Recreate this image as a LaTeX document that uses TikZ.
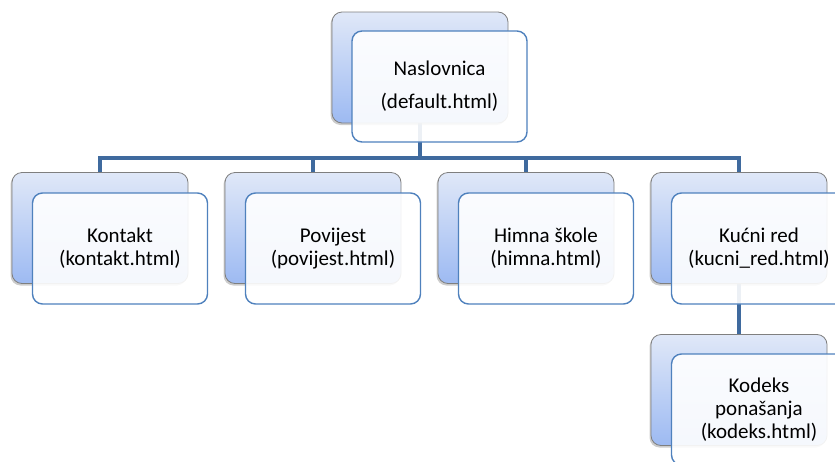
\documentclass[tikz,border=0pt]{standalone}
\usepackage{fontspec}
\setmainfont{Carlito}
\usetikzlibrary{shadows}
\definecolor{backtop}{HTML}{E0E8F8}
\definecolor{backbot}{HTML}{9DBAF2}
\definecolor{backedge}{HTML}{7F7F7F}
\definecolor{frontedge}{HTML}{4F81BD}
\definecolor{conn}{HTML}{3F6A9E}
\tikzset{
  backbox/.style={draw=backedge, line width=0.8pt, rounded corners=10pt,
    top color=backtop, bottom color=backbot, minimum width=176pt, minimum height=111pt,
    drop shadow={shadow xshift=-1.5pt, shadow yshift=-2pt, opacity=0.4}},
  frontbox/.style={draw=frontedge, line width=1.4pt, rounded corners=10pt,
    fill=white, fill opacity=0.9, text opacity=1, minimum width=175pt, minimum height=111pt,
    align=center, font=\fontsize{21}{23}\selectfont},
  connline/.style={draw=conn, line width=4pt}
}
\begin{document}
\begin{tikzpicture}[x=1pt,y=-1pt]
\useasboundingbox (0,0) rectangle (835,461);
\clip (0,0) rectangle (835,461);
% connectors
\coordinate (bus) at (420,158);
\coordinate (nasS) at (420,123);
\coordinate (konN) at (100,173);
\coordinate (povN) at (313,173);
\coordinate (himN) at (526,173);
\coordinate (kucN) at (739,173);
\coordinate (kucS) at (739,283);
\coordinate (kodN) at (739,335);
\draw[connline] (nasS) -- (bus);
\draw[connline] (bus) -| (konN);
\draw[connline] (bus) -| (povN);
\draw[connline] (bus) -| (himN);
\draw[connline] (bus) -| (kucN);
\draw[connline] (kucS) -- (kodN);
% back boxes
\node[backbox] (nasB) at (420,67.5) {};
\node[backbox] (konB) at (100,228) {};
\node[backbox] (povB) at (313,228) {};
\node[backbox] (himB) at (526,228) {};
\node[backbox] (kucB) at (739,228) {};
\node[backbox] (kodB) at (739,390) {};
% front boxes
\node[frontbox, font=\fontsize{21}{33}\selectfont] (nasF) at (439.5,86.5) {Naslovnica\\(default.html)};
\node[frontbox] (konF) at (120,248.5) {Kontakt\\(kontakt.html)};
\node[frontbox] (povF) at (333,248.5) {Povijest\\(povijest.html)};
\node[frontbox] (himF) at (546,248.5) {Himna škole\\(himna.html)};
\node[frontbox] (kucF) at (759,248.5) {Kućni red\\(kucni\_red.html)};
\node[frontbox] (kodF) at (759,409.5) {Kodeks\\ponašanja\\(kodeks.html)};
\end{tikzpicture}
\end{document}
